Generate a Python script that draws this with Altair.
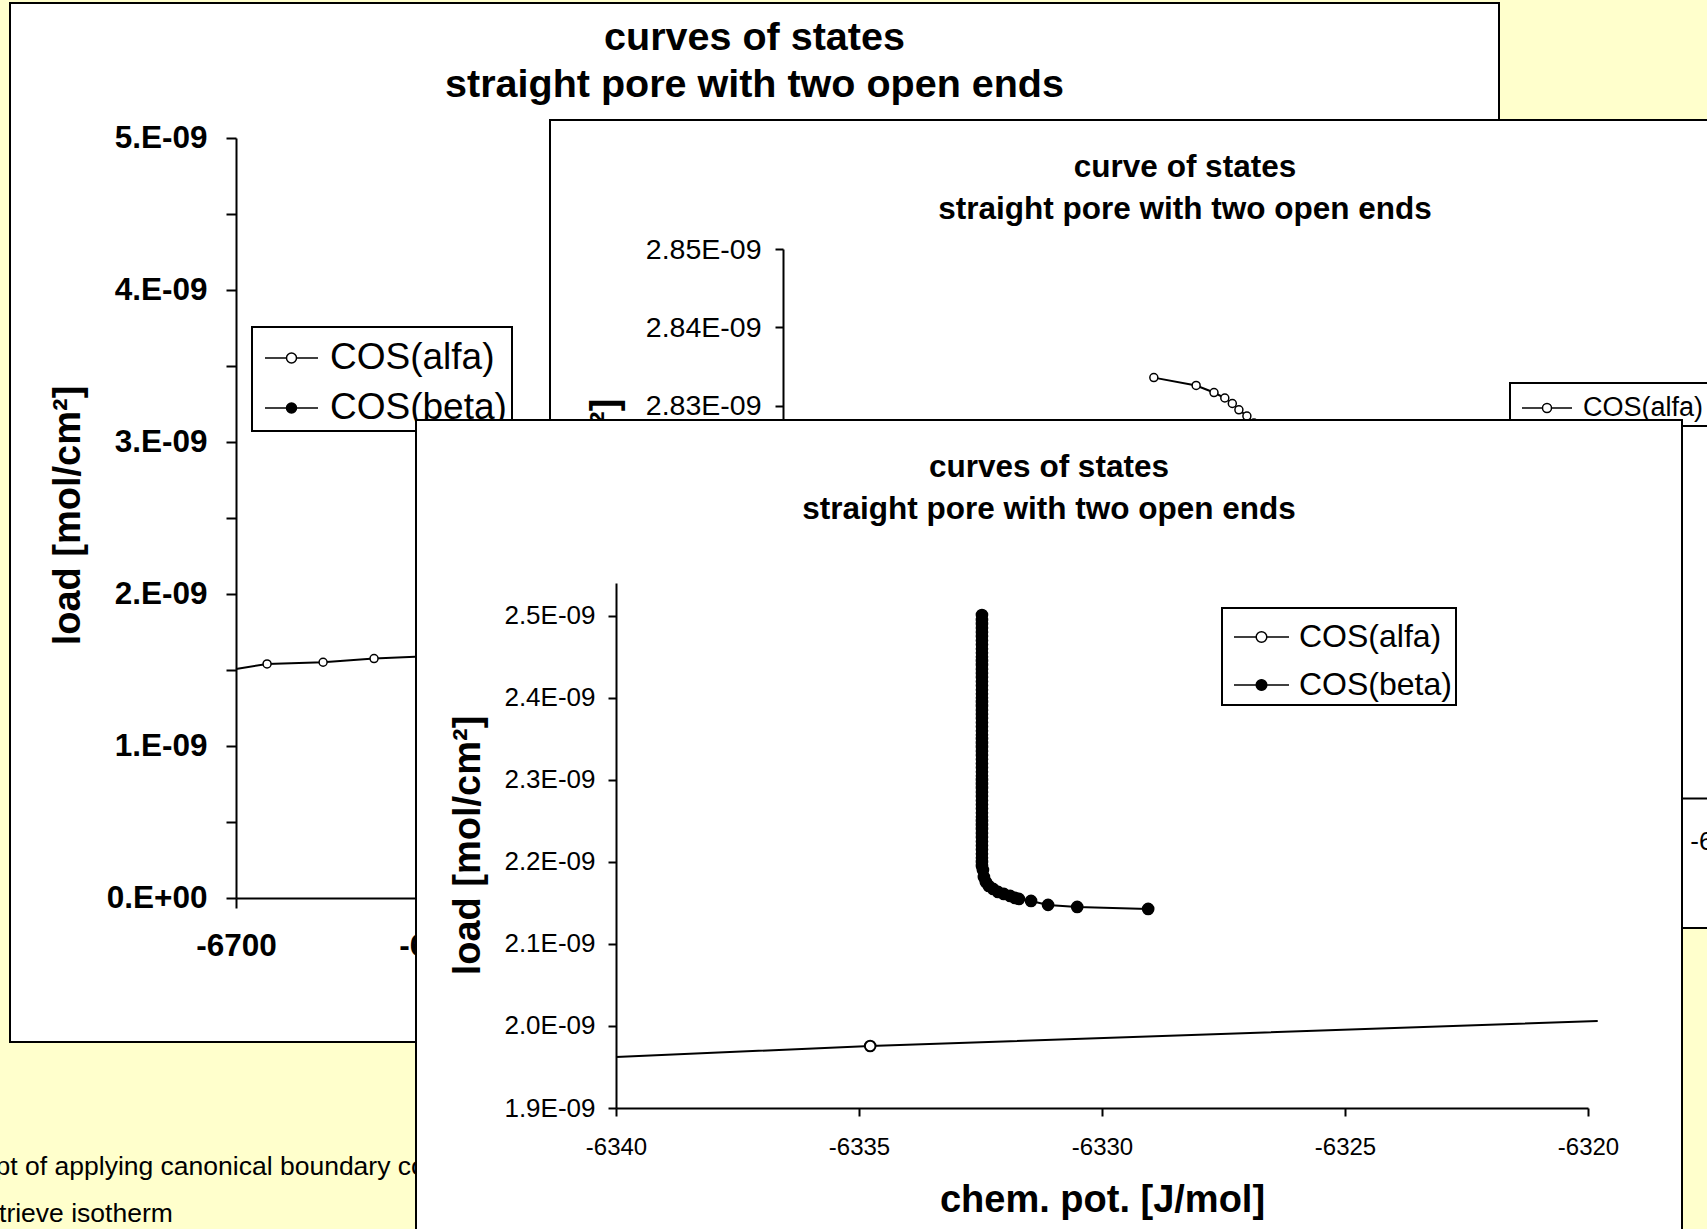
import altair as alt
import pandas as pd

FONT = "Liberation Sans"
PAGE_COLOR = "#FFFFCC"
SERIES = ["COS(alfa)", "COS(beta)"]

TITLE_LINES = ["curves of states", "straight pore with two open ends"]
MID_TITLE_LINES = ["curve of states", "straight pore with two open ends"]
X_TITLE = "chem. pot. [J/mol]"
Y_TITLE = "load [mol/cm²]"
CAPTION_LINES = ["Concept of applying canonical boundary conditions", "to retrieve isotherm"]

# Loads are in units of 1e-9 mol/cm2, chemical potentials in J/mol.

# Back chart: low end of the alfa branch (first entry is where the curve enters at the y axis).
back_alfa_mu = [-6700.0, -6684.7, -6657.1, -6632.0, -6606.0]
back_alfa_load = [1.507, 1.540, 1.551, 1.575, 1.591]
back_alfa_marked = [False, True, True, True, True]

# Middle chart: turning region at the top of the alfa branch.
mid_alfa_mu = [-6292.11, -6291.21, -6290.83, -6290.60, -6290.44, -6290.30, -6290.13, -6289.98]
mid_alfa_load = [2.8336, 2.8326, 2.8317, 2.8310, 2.8303, 2.8295, 2.8287, 2.8278]

# Front chart: alfa line crossing the window, beta branch.
front_alfa_mu = [-6340.0, -6334.77, -6319.8]
front_alfa_load = [1.9622, 1.9756, 2.0061]
front_alfa_marked = [False, True, False]

front_beta_mu = [
    -6332.47, -6332.47, -6332.47, -6332.47, -6332.47, -6332.47, -6332.47, -6332.47, -6332.47, -6332.47,
    -6332.47, -6332.47, -6332.47, -6332.47, -6332.47, -6332.47, -6332.47, -6332.47, -6332.47, -6332.47,
    -6332.47, -6332.47, -6332.47, -6332.47, -6332.47, -6332.47, -6332.47, -6332.47, -6332.47, -6332.47,
    -6332.47, -6332.47, -6332.47, -6332.47, -6332.47, -6332.47, -6332.47, -6332.47, -6332.47, -6332.47,
    -6332.47, -6332.47, -6332.47, -6332.47, -6332.47, -6332.47, -6332.47, -6332.47, -6332.47, -6332.47,
    -6332.47, -6332.47, -6332.47, -6332.47, -6332.47, -6332.47, -6332.47, -6332.47, -6332.47, -6332.47,
    -6332.47, -6332.47, -6332.45, -6332.43, -6332.39, -6332.33, -6332.24, -6332.14, -6332.02, -6331.89,
    -6331.79, -6331.71, -6331.46, -6331.11, -6330.51, -6329.05,
]
front_beta_load = [
    2.501, 2.495, 2.490, 2.485, 2.480, 2.475, 2.470, 2.465, 2.460, 2.455,
    2.450, 2.445, 2.440, 2.435, 2.430, 2.425, 2.420, 2.415, 2.410, 2.405,
    2.400, 2.395, 2.390, 2.385, 2.380, 2.375, 2.370, 2.365, 2.360, 2.355,
    2.350, 2.345, 2.340, 2.335, 2.330, 2.325, 2.320, 2.315, 2.310, 2.305,
    2.300, 2.295, 2.290, 2.285, 2.280, 2.275, 2.270, 2.265, 2.260, 2.255,
    2.250, 2.245, 2.240, 2.235, 2.230, 2.225, 2.220, 2.215, 2.210, 2.205,
    2.200, 2.195, 2.1902, 2.1817, 2.1756, 2.1707, 2.1671, 2.1634, 2.1610, 2.1585,
    2.1561, 2.1549, 2.1524, 2.1476, 2.1451, 2.1427,
]

# Tick positions
back_y_ticks = [0, 0.5, 1, 1.5, 2, 2.5, 3, 3.5, 4, 4.5, 5]
back_x_ticks = [-6700, -6600, -6500, -6400, -6300, -6200]
mid_y_ticks = [2.78, 2.79, 2.80, 2.81, 2.82, 2.83, 2.84, 2.85]
mid_x_ticks = [-6300, -6295, -6290, -6285, -6280]
front_y_ticks = [1.9, 2.0, 2.1, 2.2, 2.3, 2.4, 2.5]
front_x_ticks = [-6340, -6335, -6330, -6325, -6320]


def symbol_path(reach, radius):
    """Legend glyph: a short line with a circle in its middle."""
    a, r = f"{reach:.3f}", f"{radius:.3f}"
    return (f"M-{a},0H-{r}M{r},0H{a}"
            f"M{r},0A{r},{r},0,1,1,-{r},0A{r},{r},0,1,1,{r},0Z")


def curve(name, mu, load, marked=None):
    if marked is None:
        marked = [True] * len(mu)
    return pd.DataFrame({
        "series": name, "mu": mu, "load": load,
        "marked": marked, "step": list(range(len(mu))),
    })


def axis_common(**kw):
    base = dict(
        domainColor="black", domainWidth=2, tickColor="black", tickWidth=2,
        labelColor="black", labelFont=FONT, grid=False, labelFlush=False,
        labelOverlap=False, labelBound=False, titleFont=FONT, titleColor="black",
        titleFontWeight="bold",
    )
    base.update(kw)
    return alt.Axis(**base)


def legend(x, y, font_size, unit, reach, radius, sym_offset, label_gap, pad, row_pad):
    return alt.Legend(
        title=None, orient="none", legendX=x, legendY=y, direction="vertical",
        symbolType=symbol_path(reach, radius), symbolSize=(2 * unit) ** 2,
        symbolOffset=sym_offset,
        symbolStrokeColor="black", symbolStrokeWidth=1.5,
        labelFont=FONT, labelFontSize=font_size, labelColor="black", labelLimit=600,
        labelOffset=label_gap, padding=pad, rowPadding=row_pad,
        fillColor="white", strokeColor="black",
    )


def panel(curves, x, y, domain, leg, title, width, height, sizes, widths):
    lines = alt.Chart(pd.concat(curves, ignore_index=True)).mark_line(
        color="black", strokeWidth=2
    ).encode(x=x, y=y, detail="series:N", order="step:Q")
    fill = alt.Fill(
        "series:N",
        scale=alt.Scale(domain=domain, range=["white", "black"][: len(domain)]),
        legend=leg,
    )
    layers = [lines]
    for df, size, sw in zip(curves, sizes, widths):
        pts = df[df["marked"]]
        layers.append(
            alt.Chart(pts).mark_point(
                filled=True, stroke="black", strokeWidth=sw, size=size, opacity=1
            ).encode(x=x, y=y, fill=fill)
        )
    return alt.layer(*layers).properties(
        width=width, height=height, title=title,
        view=alt.ViewBackground(fill="white", stroke="black", strokeWidth=2),
    )


def blank(width, height):
    return alt.Chart(pd.DataFrame({"blank": [0]})).mark_point(opacity=0).properties(
        width=width, height=height
    )


# ---------------- back chart ----------------
back_x = alt.X(
    "mu:Q",
    scale=alt.Scale(domain=[-6700, -6200], range=[226, 1241], nice=False, zero=False),
    axis=axis_common(
        orient="bottom", offset=-144, values=back_x_ticks, labelExpr="'' + datum.value",
        labelFontSize=31.5, labelFontWeight="bold", labelPadding=22, tickSize=10,
        title=X_TITLE, titleFontSize=38,
    ),
)
back_y = alt.Y(
    "load:Q",
    scale=alt.Scale(domain=[0, 5], range=[895, 135], nice=False, zero=False),
    axis=axis_common(
        orient="left", offset=-226, values=back_y_ticks,
        labelExpr="datum.value % 1 != 0 ? '' : (datum.value == 0 ? '0.E+00' : datum.value + '.E-09')",
        labelFontSize=31.5, labelFontWeight="bold", labelPadding=19, tickSize=10,
        title=Y_TITLE, titleFontSize=38, titleX=-168, titleY=512, titleAngle=270,
        titleBaseline="middle", titleAlign="center",
    ),
)
back = panel(
    [curve(SERIES[0], back_alfa_mu, back_alfa_load, back_alfa_marked)],
    back_x, back_y, SERIES,
    legend(242, 324, 37, 25.75, 1.029, 0.194, 8.5, 12, 4.5, 5),
    alt.TitleParams(TITLE_LINES, font=FONT, fontSize=39.5, fontWeight="bold", color="black",
                    anchor="middle", frame="group", offset=-102.5, lineHeight=47),
    1489, 1039, [64], [1.5],
)

# ---------------- middle chart ----------------
mid_x = alt.X(
    "mu:Q",
    scale=alt.Scale(domain=[-6300, -6278], range=[233, 1267], nice=False, zero=False),
    axis=axis_common(
        orient="bottom", offset=-130, values=mid_x_ticks, labelExpr="'' + datum.value",
        labelFontSize=26, labelPadding=22, tickSize=8,
        title=X_TITLE, titleFontSize=38,
    ),
)
mid_y = alt.Y(
    "load:Q",
    scale=alt.Scale(domain=[2.78, 2.85], range=[678, 129], nice=False, zero=False),
    axis=axis_common(
        orient="left", offset=-233, values=mid_y_ticks,
        labelExpr="format(datum.value, '.2f') + 'E-09'",
        labelFontSize=28.5, labelPadding=14, tickSize=8,
        title=Y_TITLE, titleFontSize=38, titleX=-178, titleY=408, titleAngle=270,
        titleBaseline="middle", titleAlign="center",
    ),
)
mid = panel(
    [curve(SERIES[0], mid_alfa_mu, mid_alfa_load)],
    mid_x, mid_y, SERIES[:1],
    legend(960, 263, 27, 19.75, 1.266, 0.228, 12, 15.5, 4.5, 8),
    alt.TitleParams(MID_TITLE_LINES, font=FONT, fontSize=31.5, fontWeight="bold", color="black",
                    anchor="middle", frame="group", offset=-105, lineHeight=42),
    1270, 808, [64], [1.5],
)

# ---------------- front chart ----------------
front_x = alt.X(
    "mu:Q",
    scale=alt.Scale(domain=[-6340, -6320], range=[200, 1172], nice=False, zero=False),
    axis=axis_common(
        orient="bottom", offset=-212, values=front_x_ticks, labelExpr="'' + datum.value",
        labelFontSize=24, labelPadding=19, tickSize=8,
        title=X_TITLE, titleFontSize=38, titleX=686, titleY=92, titleAngle=0,
        titleBaseline="middle", titleAlign="center",
    ),
)
front_y = alt.Y(
    "load:Q",
    scale=alt.Scale(domain=[1.9, 2.54], range=[688, 163], nice=False, zero=False),
    axis=axis_common(
        orient="left", offset=-200, values=front_y_ticks,
        labelExpr="format(datum.value, '.1f') + 'E-09'",
        labelFontSize=26, labelPadding=13, tickSize=8,
        title=Y_TITLE, titleFontSize=38, titleX=-148, titleY=425, titleAngle=270,
        titleBaseline="middle", titleAlign="center",
    ),
)
front = panel(
    [
        curve(SERIES[0], front_alfa_mu, front_alfa_load, front_alfa_marked),
        curve(SERIES[1], front_beta_mu, front_beta_load),
    ],
    front_x, front_y, SERIES,
    legend(806, 188, 32, 24.25, 1.134, 0.219, 10.5, 12.5, 4, 7),
    alt.TitleParams(TITLE_LINES, font=FONT, fontSize=31.5, fontWeight="bold", color="black",
                    anchor="middle", frame="group", offset=-105.5, lineHeight=42),
    1266, 900, [113, 125], [2, 1.5],
)

# ---------------- caption text on the page ----------------
caption_layers = []
for text, cx, cy in zip(CAPTION_LINES, [-91, -64], [747, 794]):
    caption_layers.append(
        alt.Chart(pd.DataFrame({"t": [text]})).mark_text(
            align="left", baseline="middle", font=FONT, fontSize=26.5, color="black"
        ).encode(text="t:N", x=alt.value(cx), y=alt.value(cy))
    )
caption = alt.layer(*caption_layers).properties(width=1538, height=10)

# Overlapping placement: 3-column flow grid with negative spacing.
chart = alt.concat(
    back, blank(1266, 1039), blank(10, 1039),
    blank(1538, 10), blank(1266, 1222), mid,
    caption, front,
    columns=3, spacing={"row": -922, "column": -1132}, align="none", bounds="flush",
).resolve_scale(fill="independent").resolve_legend(fill="independent").properties(
    background=PAGE_COLOR,
    padding={"left": 10, "top": 3, "right": 1697, "bottom": 1226},
    autosize=alt.AutoSizeParams(type="none"),
).configure_view(stroke="transparent").configure_legend(strokeWidth=2)

chart.save("out.html", embed_options={"renderer": "svg", "actions": False})
